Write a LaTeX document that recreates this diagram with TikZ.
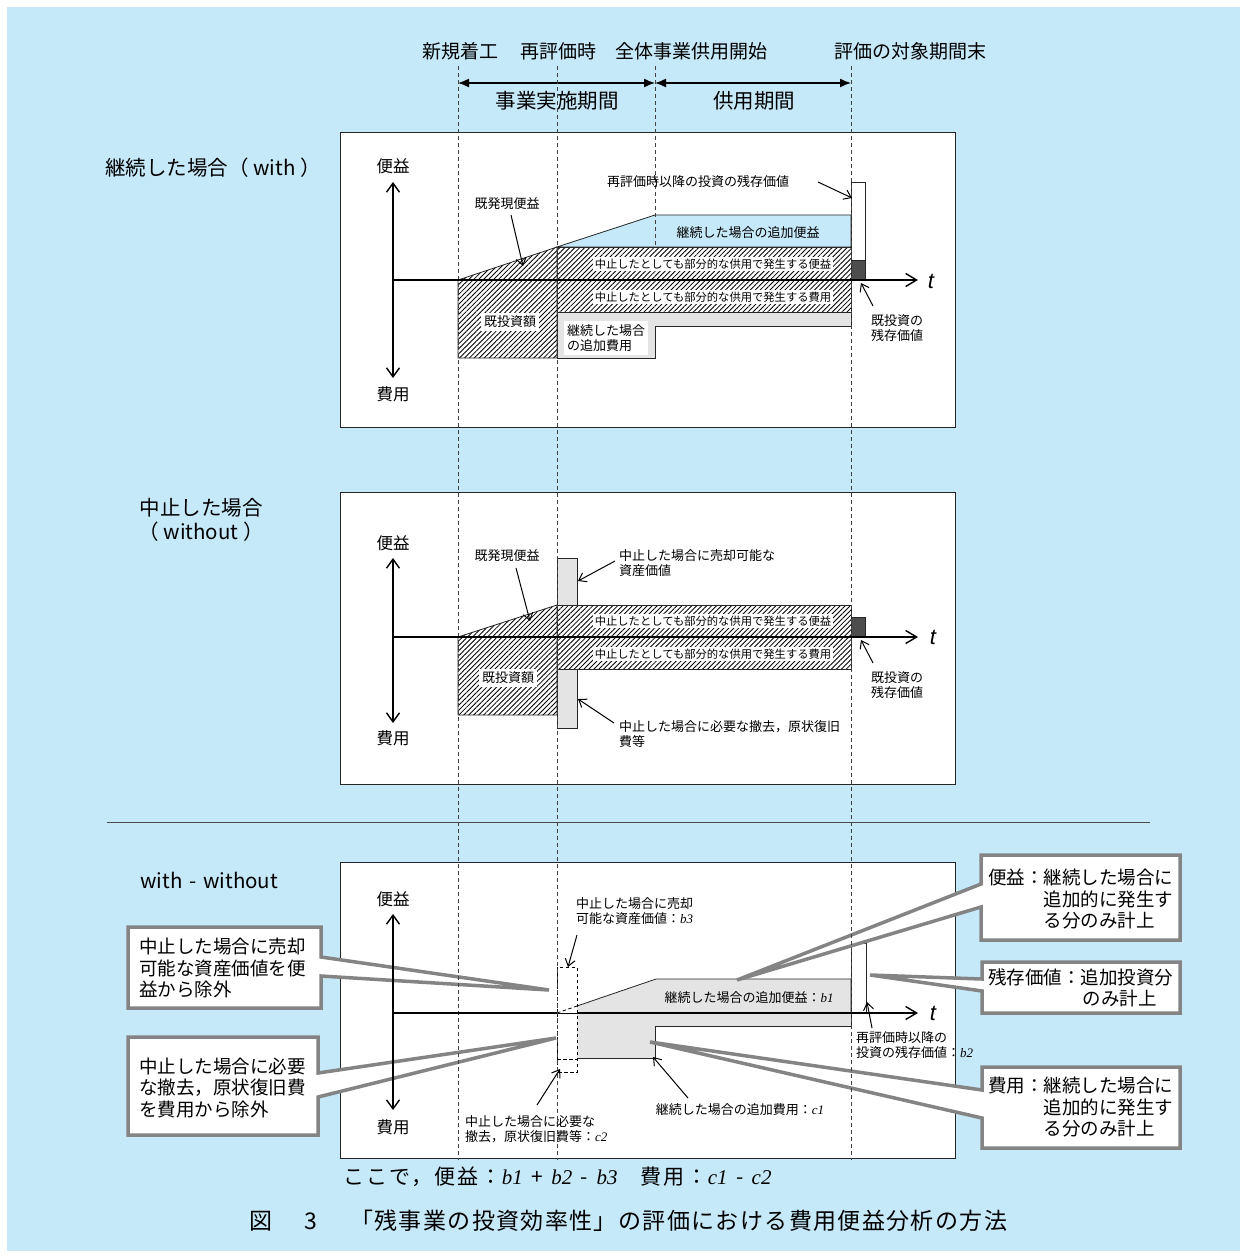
\documentclass[tikz,border=0pt]{standalone}
\usepackage{fontspec}
\setmainfont{Noto Sans CJK JP}
\newfontfamily\libserif{Liberation Serif}
\newfontfamily\libsans{Liberation Sans}
\newfontfamily\capfont{Noto Sans CJK JP}[LetterSpace=6]
\newfontfamily\fmfont{Noto Sans CJK JP}[LetterSpace=10]
\usetikzlibrary{arrows.meta,patterns.meta}
\definecolor{bgblue}{HTML}{C6E9F9}
\definecolor{lgray}{HTML}{E4E4E4}
\definecolor{dgray}{HTML}{4D4D4D}
\definecolor{cgray}{HTML}{848484}
\newcommand{\vx}[1]{{\libserif\itshape #1}}
\tikzset{
  hdr/.style={font=\fontsize{19}{21}\selectfont, inner sep=0pt},
  big/.style={font=\fontsize{20.5}{24}\selectfont, inner sep=0pt},
  axl/.style={font=\fontsize{16.5}{18}\selectfont, inner sep=0pt},
  lab/.style={font=\fontsize{13}{15.5}\selectfont, inner sep=0pt, align=left},
  wlab/.style={lab, fill=white, inner sep=3pt},
  band/.style={font=\fontsize{11.3}{13}\selectfont, fill=white, inner sep=1.5pt},
  panel/.style={draw=black!85, fill=white, line width=1pt},
  vdash/.style={draw=black!75, dash pattern=on 4pt off 3pt, line width=0.9pt},
  dbox/.style={draw=black, dash pattern=on 3.5pt off 2.5pt, line width=0.8pt},
  region/.style={draw=black!85, line width=0.8pt},
  hatch/.style={region, pattern={Lines[angle=45,distance=3.5pt,line width=0.85pt]}},
  biarrow/.style={line width=1.4pt, {Straight Barb[length=9pt,width=13pt]}-{Straight Barb[length=9pt,width=13pt]}},
  axarrow/.style={line width=1.4pt, -{Straight Barb[length=11pt,width=13pt]}},
  axline/.style={line width=1.4pt},
  ptr/.style={line width=1pt, -{Straight Barb[length=7pt,width=10pt]}},
  hdrarrow/.style={line width=1.4pt, {Latex[length=11pt,width=9pt]}-{Latex[length=11pt,width=9pt]}},
  callout/.style={draw=cgray, fill=white, line width=3.5pt, line join=miter},
  ctext/.style={font=\fontsize{18.5}{21.5}\selectfont, inner sep=0pt, align=left},
  tlab/.style={font=\libsans\itshape\fontsize{22}{22}\selectfont, inner sep=0pt},
  sline/.style={draw=black!70, line width=1pt},
}
\begin{document}
\begin{tikzpicture}[x=1pt,y=-1pt]
\useasboundingbox (0,0) rectangle (1247,1258);
\fill[white] (0,0) rectangle (1247,1258);
\fill[bgblue] (7,7) rectangle (1240,1251);

% ---------- panels ----------
\draw[panel] (340,132) rectangle (955,427);
\draw[panel] (340,492) rectangle (955,784);
\draw[panel] (340,862) rectangle (955,1158);
\coordinate (sepL) at (107,822); \coordinate (sepR) at (1150,822);
\draw[sline] (sepL) -- (sepR);

% ---------- header ----------
\node[hdr] (h1) at (460,51) {新規着工};
\node[hdr] (h2) at (558,51) {再評価時};
\node[hdr] (h3) at (691,51) {全体事業供用開始};
\node[hdr] (h4) at (910,51) {評価の対象期間末};
\coordinate (a1) at (458,83); \coordinate (a2) at (655,83); \coordinate (a3) at (851,83);
\draw[hdrarrow] (a1) -- (a2);
\draw[hdrarrow] (a2) -- (a3);
\node[big] (p1) at (557,101) {事業実施期間};
\node[big] (p2) at (754,101) {供用期間};

% ---------- left titles ----------
\node[big] (w1) at (213,168) {継続した場合（ with ）};
\node[big] (w2) at (201,508) {中止した場合};
\node[big] (w3) at (201,532) {（ without ）};
\node[big, anchor=west] (w4) at (140,880) {with\,\,-\,\,without};

% ---------- panel 1 regions ----------
\draw[hatch] (458,280) -- (557,247) -- (557,358) -- (458,358) -- cycle;
\draw[region, fill=bgblue] (557,247) -- (655,215) -- (851,215) -- (851,247) -- cycle;
\draw[hatch] (557,247) rectangle (851,312);
\draw[region, fill=lgray] (557,312) -- (851,312) -- (851,326) -- (655,326) -- (655,358) -- (557,358) -- cycle;
\draw[region, fill=white] (851,182) rectangle (865,260);
\draw[region, fill=dgray] (851,260) rectangle (865,280);

% ---------- panel 2 regions ----------
\draw[region, fill=lgray] (557,558) rectangle (577,605);
\draw[region, fill=lgray] (557,669) rectangle (577,728);
\draw[hatch] (458,637) -- (557,605) -- (557,715) -- (458,715) -- cycle;
\draw[hatch] (557,605) rectangle (851,669);
\draw[region, fill=dgray] (851,617) rectangle (865,637);

% ---------- panel 3 regions ----------
\fill[lgray] (577,1013) -- (577,1006) -- (656,979) -- (851,979) -- (851,1013) -- cycle;
\draw[region] (577,1006) -- (656,979) -- (851,979) -- (851,1013);
\fill[lgray] (577,1013) -- (851,1013) -- (851,1026) -- (655,1026) -- (655,1058) -- (577,1058) -- cycle;
\draw[region] (851,1013) -- (851,1026) -- (655,1026) -- (655,1058) -- (577,1058);
\draw[dbox] (557,967) rectangle (577,1013);
\draw[dbox] (557,1013) rectangle (577,1072);
\draw[dbox] (557,1059) -- (577,1059);
\draw[dbox] (557,1013) -- (577,1006);
\draw[region, fill=white] (851,943) rectangle (866,1013);

% ---------- callouts ----------
\draw[callout] (128,927) -- (321,927) -- (321,957) -- (549,990) -- (321,976) -- (321,1008) -- (128,1008) -- cycle;
\draw[callout] (128,1037) -- (318,1037) -- (318,1073) -- (556,1038) -- (318,1097) -- (318,1135) -- (128,1135) -- cycle;
\draw[callout] (981,855) -- (1180,855) -- (1180,940) -- (981,940) -- (981,907) -- (737,980) -- (981,884) -- cycle;
\draw[callout] (982,962) -- (1180,962) -- (1180,1013) -- (982,1013) -- (982,991) -- (870,975) -- (982,979) -- cycle;
\draw[callout] (982,1067) -- (1180,1067) -- (1180,1148) -- (982,1148) -- (982,1118) -- (650,1042) -- (982,1090) -- cycle;
\node[ctext, anchor=west] (cl1) at (139,968) {中止した場合に売却\\可能な資産価値を便\\益から除外};
\node[ctext, anchor=west] (cl2) at (139,1088) {中止した場合に必要\\な撤去，原状復旧費\\を費用から除外};
\node[ctext, anchor=west] (cr1) at (988,899) {便益：継続した場合に\\\hspace*{3em}追加的に発生す\\\hspace*{3em}る分のみ計上};
\node[ctext, anchor=west] (cr2) at (988,988) {残存価値：追加投資分\\\hspace*{5.1em}のみ計上};
\node[ctext, anchor=west] (cr3) at (988,1107) {費用：継続した場合に\\\hspace*{3em}追加的に発生す\\\hspace*{3em}る分のみ計上};

% ---------- dashed time lines ----------
\coordinate (v1t) at (458,66);  \coordinate (v1b) at (458,1160);
\coordinate (v2t) at (557,66);  \coordinate (v2b) at (557,1160);
\coordinate (v3t) at (655,66);  \coordinate (v3b) at (655,247);
\coordinate (v4t) at (851,66);  \coordinate (v4b) at (851,1160);
\draw[vdash] (v1t) -- (v1b);
\draw[vdash] (v2t) -- (v2b);
\draw[vdash] (v3t) -- (v3b);
\draw[vdash] (v4t) -- (v4b);

% ---------- axes ----------
\coordinate (y1t) at (393,182); \coordinate (y1b) at (393,378);
\coordinate (x1o) at (393,280); \coordinate (x1e) at (918,280);
\draw[biarrow] (y1t) -- (y1b);
\draw[axarrow] (x1o) -- (x1e);
\coordinate (y2t) at (393,558); \coordinate (y2b) at (393,723);
\coordinate (x2o) at (393,637); \coordinate (x2e) at (918,637);
\draw[biarrow] (y2t) -- (y2b);
\draw[axarrow] (x2o) -- (x2e);
\coordinate (y3t) at (393,914); \coordinate (y3b) at (393,1110);
\coordinate (x3o) at (393,1013); \coordinate (x3m) at (557,1013);
\coordinate (x3n) at (577,1013); \coordinate (x3e) at (918,1013);
\draw[biarrow] (y3t) -- (y3b);
\draw[axline] (x3o) -- (x3m);
\draw[axarrow] (x3n) -- (x3e);
\node[tlab] (t1) at (931,281) {t};
\node[tlab] (t2) at (933,637) {t};
\node[tlab] (t3) at (933,1013) {t};

\node[axl] (bu1) at (393,166) {便益};
\node[axl] (bd1) at (393,394) {費用};
\node[axl] (bu2) at (393,543) {便益};
\node[axl] (bd2) at (393,738) {費用};
\node[axl] (bu3) at (393,899) {便益};
\node[axl] (bd3) at (393,1127) {費用};

% ---------- panel 1 labels ----------
\node[lab] (k1) at (507,204) {既発現便益};
\coordinate (k1s) at (511,215); \coordinate (k1e) at (523,266);
\draw[ptr] (k1s) -- (k1e);
\node[band] (bb1) at (713,264) {中止したとしても部分的な供用で発生する便益};
\node[band] (bc1) at (713,297) {中止したとしても部分的な供用で発生する費用};
\node[wlab] (ki1) at (510,322) {既投資額};
\node[wlab, anchor=west] (ac1) at (564,338) {継続した場合\\の追加費用};
\node[lab] (ab1) at (748,233) {継続した場合の追加便益};
\node[lab] (rv1) at (698,182) {再評価時以降の投資の残存価値};
\coordinate (rv1s) at (818,182); \coordinate (rv1e) at (852,198);
\draw[ptr] (rv1s) -- (rv1e);
\node[lab, anchor=west] (zr1) at (871,328) {既投資の\\残存価値};
\coordinate (zr1s) at (873,306); \coordinate (zr1e) at (861,283);
\draw[ptr] (zr1s) -- (zr1e);

% ---------- panel 2 labels ----------
\node[lab] (k2) at (507,556) {既発現便益};
\coordinate (k2s) at (516,568); \coordinate (k2e) at (530,621);
\draw[ptr] (k2s) -- (k2e);
\node[band] (bb2) at (713,621) {中止したとしても部分的な供用で発生する便益};
\node[band] (bc2) at (713,654) {中止したとしても部分的な供用で発生する費用};
\node[wlab] (ki2) at (508,678) {既投資額};
\node[lab, anchor=west] (sv2) at (619,563) {中止した場合に売却可能な\\資産価値};
\coordinate (sv2s) at (615,561); \coordinate (sv2e) at (578,581);
\draw[ptr] (sv2s) -- (sv2e);
\node[lab, anchor=west] (rm2) at (619,734) {中止した場合に必要な撤去，原状復旧\\費等};
\coordinate (rm2s) at (614,723); \coordinate (rm2e) at (578,699);
\draw[ptr] (rm2s) -- (rm2e);
\node[lab, anchor=west] (zr2) at (871,685) {既投資の\\残存価値};
\coordinate (zr2s) at (873,663); \coordinate (zr2e) at (861,640);
\draw[ptr] (zr2s) -- (zr2e);

% ---------- panel 3 labels ----------
\node[lab, anchor=west] (sv3) at (576,911) {中止した場合に売却\\可能な資産価値：\vx{b3}};
\coordinate (sv3s) at (577,935); \coordinate (sv3e) at (568,967);
\draw[ptr] (sv3s) -- (sv3e);
\node[lab] (ab3) at (749,998) {継続した場合の追加便益：\vx{b1}};
\node[lab] (ac3) at (740,1110) {継続した場合の追加費用：\vx{c1}};
\coordinate (ac3s) at (688,1098); \coordinate (ac3e) at (653,1057);
\draw[ptr] (ac3s) -- (ac3e);
\node[lab, anchor=west] (rm3) at (465,1129) {中止した場合に必要な\\撤去，原状復旧費等：\vx{c2}};
\coordinate (rm3s) at (537,1105); \coordinate (rm3e) at (560,1069);
\draw[ptr] (rm3s) -- (rm3e);
\node[lab, anchor=west] (rv3) at (856,1045) {再評価時以降の\\投資の残存価値：\vx{b2}};
\coordinate (rv3s) at (872,1028); \coordinate (rv3e) at (867,1002);
\draw[ptr] (rv3s) -- (rv3e);

% ---------- bottom text ----------
\node[font=\fmfont\fontsize{21}{24}\selectfont, inner sep=0pt, anchor=west] (fm) at (343,1177)
  {ここで，便益：\vx{b1}\hspace{0.4em}+\hspace{0.4em}\vx{b2}\hspace{0.4em}-\hspace{0.4em}\vx{b3}\hspace{1.1em}費用：\vx{c1}\hspace{0.4em}-\hspace{0.4em}\vx{c2}};
\node[font=\fontsize{23}{26}\selectfont, inner sep=0pt] (fg) at (261,1221) {図};
\node[font=\fontsize{23}{26}\selectfont, inner sep=0pt] (fn) at (311,1221) {3};
\node[font=\capfont\fontsize{23}{26}\selectfont, inner sep=0pt, anchor=west] (ft) at (350,1221)
  {「残事業の投資効率性」の評価における費用便益分析の方法};
\end{tikzpicture}
\end{document}
